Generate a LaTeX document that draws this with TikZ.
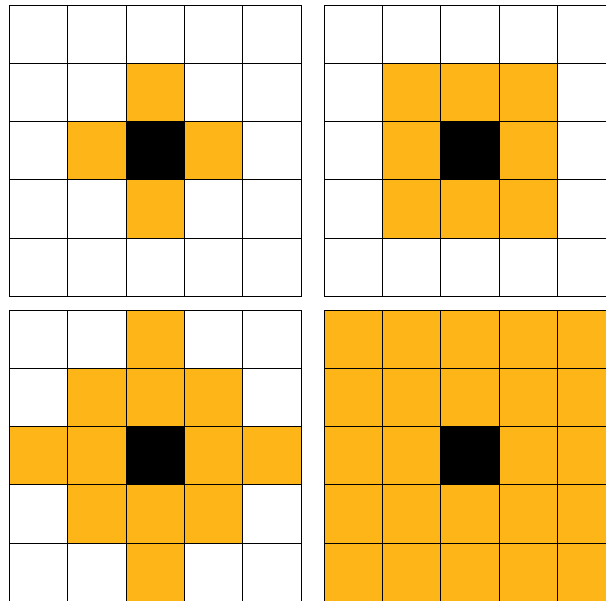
\documentclass[tikz,border=0pt]{standalone}
\usepackage{tikz}
\definecolor{hoodorange}{HTML}{FDB517}

\begin{document}
\begin{tikzpicture}[
  x=1pt, y=-1pt,
  cell/.style={draw=black, line width=0.8pt},
]
\def\cs{58.3}
\useasboundingbox (0,0) rectangle (606,601);
\clip (0,0) rectangle (606,601);
% four neighbourhoods: von Neumann r=1, Moore r=1, von Neumann r=2, full
\foreach \gx/\gy/\hood in {9.5/5/{abs(\i-2)+abs(\j-2)<=1},
                           324/5/{max(abs(\i-2),abs(\j-2))<=1},
                           9.5/310/{abs(\i-2)+abs(\j-2)<=2},
                           324/310/{1}}{
  \begin{scope}[shift={(\gx,\gy)}]
    \foreach \i in {0,...,4}{
      \foreach \j in {0,...,4}{
        \pgfmathtruncatemacro\inhood{\hood}
        \pgfmathtruncatemacro\seed{(\i==2)&&(\j==2)}
        \ifnum\seed=1 \def\tint{black}\else
          \ifnum\inhood=1 \def\tint{hoodorange}\else\def\tint{white}\fi\fi
        \draw[cell, fill=\tint] (\i*\cs,\j*\cs) rectangle ++(\cs,\cs);
      }
    }
  \end{scope}
}
\end{tikzpicture}
\end{document}
